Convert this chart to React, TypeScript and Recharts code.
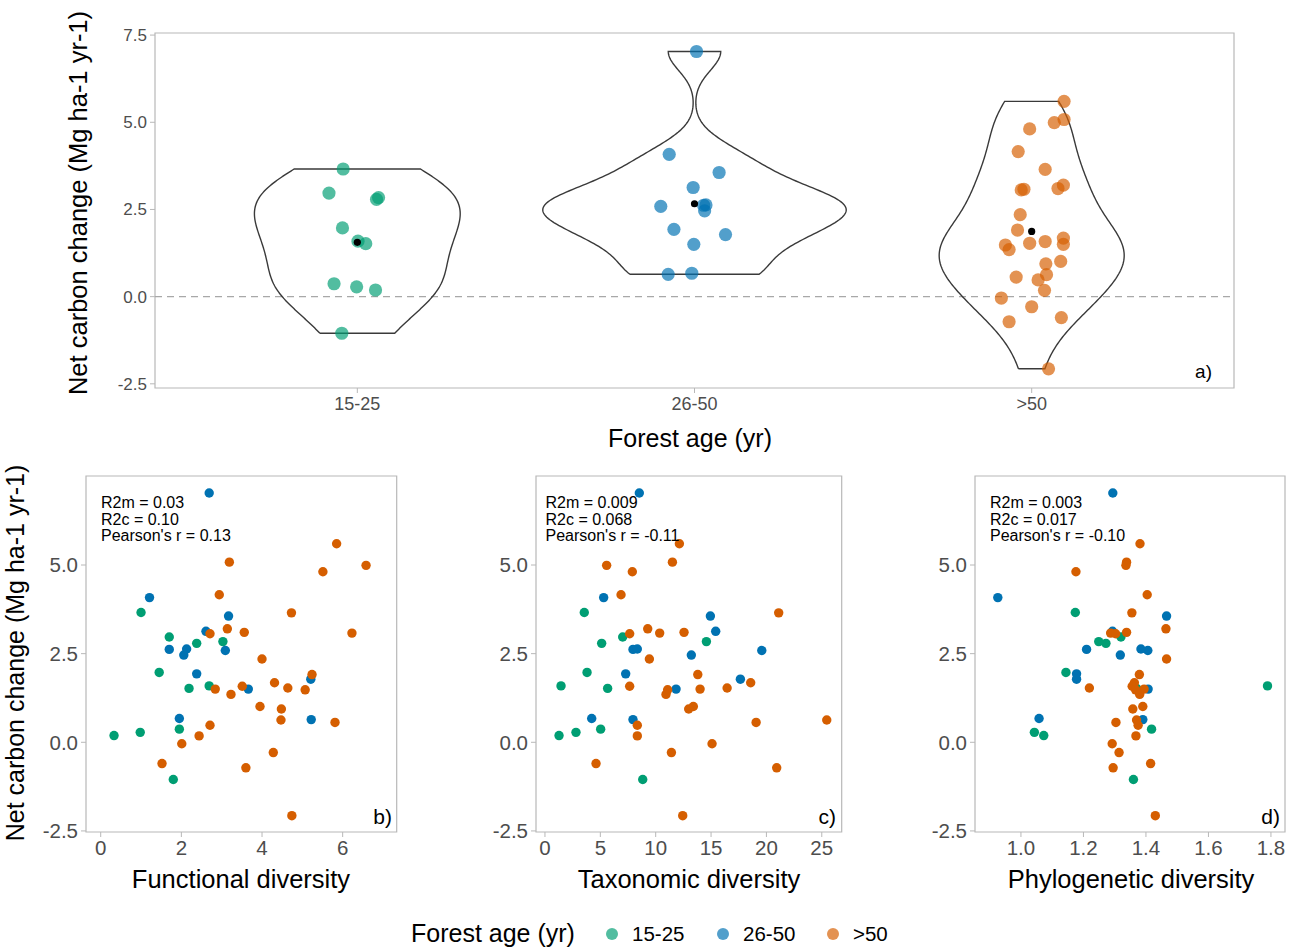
import React from 'react';
import { ComposedChart, ScatterChart, Scatter, XAxis, YAxis, ReferenceLine, ReferenceArea } from 'recharts';

// ---------------- data ----------------
const ageGroups = ['15-25', '26-50', '>50'];
const groupColors = ['#009E73', '#0072B2', '#D55E00'];

// 15-25 yr
const carbon1525 = [3.66, 2.97, 2.79, 2.84, 1.97, 1.52, 1.59, 0.37, 0.19, 0.28, -1.05];
const fd1525 = [1.0, 1.7, 2.38, 3.03, 1.45, 2.19, 2.69, 1.95, 0.33, 0.98, 1.8];
const td1525 = [3.55, 7.02, 5.12, 14.58, 3.8, 5.66, 1.45, 5.03, 1.27, 2.8, 8.83];
const pd1525 = [1.174, 1.32, 1.272, 1.249, 1.144, 1.37, 1.789, 1.418, 1.073, 1.043, 1.36];
const jitter1525 = [-0.042, -0.084, 0.057, 0.063, -0.044, 0.025, 0.002, -0.069, 0.054, -0.002, -0.046];

// 26-50 yr
const carbon2650 = [7.03, 4.08, 3.56, 3.13, 2.59, 2.62, 2.63, 2.46, 1.93, 1.78, 1.5, 0.67, 0.64];
const fd2650 = [2.69, 1.21, 3.17, 2.61, 3.09, 1.7, 2.13, 2.06, 2.38, 5.21, 3.66, 1.95, 5.22];
const td2650 = [8.52, 5.3, 14.94, 15.42, 19.58, 7.95, 8.34, 13.22, 7.29, 17.65, 11.84, 4.22, 7.95];
const pd2650 = [1.294, 0.926, 1.466, 1.293, 1.406, 1.21, 1.384, 1.318, 1.178, 1.178, 1.407, 1.058, 1.39];
const jitter2650 = [0.006, -0.075, 0.073, -0.004, -0.1, 0.027, 0.034, 0.03, -0.061, 0.092, -0.002, -0.008, -0.078];

// >50 yr
const carbon50 = [5.6, 5.08, 4.99, 4.81, 4.16, 3.65, 3.2, 3.1, 3.08, 3.06, 2.35, 1.91, 1.68, 1.58, 1.53, 1.5, 1.48, 1.35, 1.01, 0.94, 0.63, 0.56, 0.48, 0.18, -0.04, -0.29, -0.6, -0.72, -2.07];
const fd50 = [5.85, 3.19, 6.58, 5.51, 2.94, 4.73, 3.14, 3.56, 6.23, 2.71, 4.0, 5.24, 4.31, 3.51, 4.64, 2.84, 5.07, 3.23, 3.95, 4.48, 4.47, 5.81, 2.71, 2.44, 2.01, 4.28, 1.52, 3.6, 4.74];
const td50 = [12.14, 11.51, 5.57, 7.89, 6.87, 21.11, 9.28, 12.56, 10.36, 7.65, 9.43, 13.8, 18.58, 7.65, 16.45, 14.01, 11.08, 10.93, 13.4, 12.98, 25.45, 19.07, 8.34, 8.34, 15.09, 11.42, 4.61, 20.93, 12.44];
const pd50 = [1.381, 1.338, 1.336, 1.176, 1.404, 1.355, 1.464, 1.338, 1.287, 1.303, 1.466, 1.379, 1.363, 1.356, 1.219, 1.394, 1.367, 1.38, 1.39, 1.358, 1.37, 1.304, 1.375, 1.368, 1.292, 1.314, 1.415, 1.295, 1.43];
const jitter50 = [0.096, 0.096, 0.067, -0.006, -0.04, 0.04, 0.094, 0.078, -0.023, -0.031, -0.034, -0.042, 0.094, 0.04, -0.006, 0.094, -0.078, -0.067, 0.086, 0.042, 0.044, -0.046, 0.019, 0.038, -0.09, 0.0, 0.088, -0.067, 0.05];

const carbonByGroup = [carbon1525, carbon2650, carbon50];
const jitterByGroup = [jitter1525, jitter2650, jitter50];
const fdByGroup = [fd1525, fd2650, fd50];
const tdByGroup = [td1525, td2650, td50];
const pdByGroup = [pd1525, pd2650, pd50];

const statsFD = ['R2m = 0.03', 'R2c = 0.10', "Pearson's r = 0.13"];
const statsTD = ['R2m = 0.009', 'R2c = 0.068', "Pearson's r = -0.11"];
const statsPD = ['R2m = 0.003', 'R2c = 0.017', "Pearson's r = -0.10"];

const topYTicks = [-2.5, 0, 2.5, 5, 7.5];
const bottomYTicks = [-2.5, 0, 2.5, 5];
const fdTicks = [0, 2, 4, 6];
const tdTicks = [0, 5, 10, 15, 20, 25];
const pdTicks = [1.0, 1.2, 1.4, 1.6, 1.8];

// ---------------- violin (ggplot-like KDE, nrd0 bandwidth, scale = area) ----------------
function quantile(sorted: number[], p: number) {
  const h = (sorted.length - 1) * p;
  const lo = Math.floor(h);
  const hi = Math.min(lo + 1, sorted.length - 1);
  return sorted[lo] + (h - lo) * (sorted[hi] - sorted[lo]);
}
function bwNrd0(v: number[]) {
  const n = v.length;
  const m = v.reduce((a, b) => a + b, 0) / n;
  const sd = Math.sqrt(v.reduce((a, b) => a + (b - m) * (b - m), 0) / (n - 1));
  const s = [...v].sort((a, b) => a - b);
  const iqr = quantile(s, 0.75) - quantile(s, 0.25);
  let lo = Math.min(sd, iqr / 1.34);
  if (!lo) lo = sd || 1;
  return 0.9 * lo * Math.pow(n, -0.2);
}
function kde(v: number[], bw: number, y: number) {
  let s = 0;
  for (const x of v) {
    const z = (y - x) / bw;
    s += Math.exp(-0.5 * z * z);
  }
  return s / (v.length * bw * Math.sqrt(2 * Math.PI));
}
const STEPS = 160;
const densities = carbonByGroup.map((v) => {
  const bw = bwNrd0(v);
  const lo = Math.min(...v);
  const hi = Math.max(...v);
  const rows: { y: number; d: number }[] = [];
  for (let i = 0; i <= STEPS; i++) {
    const y = lo + ((hi - lo) * i) / STEPS;
    rows.push({ y, d: kde(v, bw, y) });
  }
  return rows;
});
const globalMax = Math.max(...densities.flat().map((r) => r.d));
const violinOutlines = densities.map((rows, g) => {
  const c = g + 1;
  const left = rows.map((r) => ({ x: c - (0.45 * r.d) / globalMax, y: r.y }));
  const right = [...rows].reverse().map((r) => ({ x: c + (0.45 * r.d) / globalMax, y: r.y }));
  return [...left, ...right, left[0]];
});
const topPoints = carbonByGroup.map((v, g) => v.map((y, i) => ({ x: g + 1 + jitterByGroup[g][i], y })));
const groupMeans = carbonByGroup.map((v, g) => ({ x: g + 1, y: v.reduce((a, b) => a + b, 0) / v.length }));

// ---------------- styling ----------------
const FONT = '"Liberation Sans", Arial, Helvetica, sans-serif';
const TICK_COLOR = '#4d4d4d';
const BORDER = '#b8b8b8';

const dotShape = (color: string, r: number, opacity: number) => (p: any) =>
  <circle cx={p.cx} cy={p.cy} r={r} fill={color} fillOpacity={opacity} stroke="none" />;
const noShape = () => <g />;

const fmt1 = (v: number) => v.toFixed(1);

// ---------------- top violin panel ----------------
const TOP_Y_DOMAIN: [number, number] = [-2.62, 7.56];

function TopPanel() {
  return (
    <div style={{ position: 'absolute', left: 0, top: 0 }}>
      <ComposedChart width={1293} height={470} margin={{ top: 33, right: 59, bottom: 42, left: 95 }}>
        <XAxis
          type="number"
          dataKey="x"
          domain={[0.4, 3.6]}
          allowDataOverflow
          ticks={[1, 2, 3]}
          tickFormatter={(v: number) => ageGroups[v - 1]}
          axisLine={false}
          tickLine={{ stroke: BORDER }}
          tickSize={5}
          tickMargin={4}
          height={40}
          tick={{ fill: TICK_COLOR, fontSize: 18, fontFamily: FONT }}
        />
        <YAxis
          type="number"
          dataKey="y"
          domain={TOP_Y_DOMAIN}
          allowDataOverflow
          ticks={topYTicks}
          tickFormatter={fmt1}
          axisLine={false}
          tickLine={{ stroke: BORDER }}
          tickSize={5}
          tickMargin={3}
          width={60}
          tick={{ fill: TICK_COLOR, fontSize: 17, fontFamily: FONT }}
        />
        <ReferenceArea x1={0.4} x2={3.6} y1={TOP_Y_DOMAIN[0]} y2={TOP_Y_DOMAIN[1]} fill="none" fillOpacity={0} stroke={BORDER} strokeWidth={1.2} />
        <ReferenceLine y={0} stroke="#a8a8a8" strokeWidth={1.4} strokeDasharray="7 5" />
        {violinOutlines.map((d, g) => (
          <Scatter
            key={'v' + g}
            data={d}
            line={{ stroke: '#3a3a3a', strokeWidth: 1.4 }}
            lineType="joint"
            shape={noShape}
            isAnimationActive={false}
          />
        ))}
        {topPoints.map((d, g) => (
          <Scatter key={'p' + g} data={d} shape={dotShape(groupColors[g], 6.6, 0.68)} isAnimationActive={false} />
        ))}
        <Scatter data={groupMeans} shape={dotShape('#000000', 3.6, 1)} isAnimationActive={false} />
      </ComposedChart>
    </div>
  );
}

// ---------------- bottom scatter panels ----------------
const BOTTOM_Y_DOMAIN: [number, number] = [-2.53, 7.51];

type PanelCfg = {
  left: number;
  width: number;
  mLeft: number;
  mRight: number;
  domain: [number, number];
  ticks: number[];
  fmt: (v: number) => string;
  xs: number[][];
};

const panelCfgs: PanelCfg[] = [
  { left: 0, width: 410, mLeft: 26, mRight: 13.3, domain: [-0.365, 7.34], ticks: fdTicks, fmt: (v) => String(v), xs: fdByGroup },
  { left: 440, width: 412, mLeft: 36, mRight: 10.3, domain: [-0.81, 26.8], ticks: tdTicks, fmt: (v) => String(v), xs: tdByGroup },
  { left: 880, width: 413, mLeft: 35, mRight: 8, domain: [0.853, 1.845], ticks: pdTicks, fmt: fmt1, xs: pdByGroup },
];

function BottomPanel({ cfg }: { cfg: PanelCfg }) {
  return (
    <div style={{ position: 'absolute', left: cfg.left, top: 456 }}>
      <ScatterChart width={cfg.width} height={420} margin={{ top: 20, right: cfg.mRight, bottom: 0, left: cfg.mLeft }}>
        <XAxis
          type="number"
          dataKey="x"
          domain={cfg.domain}
          allowDataOverflow
          ticks={cfg.ticks}
          tickFormatter={cfg.fmt}
          axisLine={false}
          tickLine={{ stroke: BORDER }}
          tickSize={5}
          tickMargin={3}
          height={44}
          tick={{ fill: TICK_COLOR, fontSize: 20.5, fontFamily: FONT }}
        />
        <YAxis
          type="number"
          dataKey="y"
          domain={BOTTOM_Y_DOMAIN}
          allowDataOverflow
          ticks={bottomYTicks}
          tickFormatter={fmt1}
          axisLine={false}
          tickLine={{ stroke: BORDER }}
          tickSize={5}
          tickMargin={3}
          width={60}
          tick={{ fill: TICK_COLOR, fontSize: 20.5, fontFamily: FONT }}
        />
        <ReferenceArea x1={cfg.domain[0]} x2={cfg.domain[1]} y1={BOTTOM_Y_DOMAIN[0]} y2={BOTTOM_Y_DOMAIN[1]} fill="none" fillOpacity={0} stroke={BORDER} strokeWidth={1.2} />
        {carbonByGroup.map((ys, g) => (
          <Scatter
            key={g}
            data={ys.map((y, i) => ({ x: cfg.xs[g][i], y }))}
            shape={dotShape(groupColors[g], 4.7, 1)}
            isAnimationActive={false}
          />
        ))}
      </ScatterChart>
    </div>
  );
}

// ---------------- overlay text ----------------
const yTitle = 'Net carbon change (Mg ha-1 yr-1)';
const statsByPanel = [statsFD, statsTD, statsPD];
const statsX = [101, 545.5, 990];
const letters = ['b)', 'c)', 'd)'];
const letterX = [392, 836, 1280];
const xTitles = ['Functional diversity', 'Taxonomic diversity', 'Phylogenetic diversity'];
const xTitleCenters = [241, 689, 1131];
const legendDotX = [612, 723, 833];

function Overlay() {
  return (
    <svg width={1293} height={950} style={{ position: 'absolute', left: 0, top: 0, pointerEvents: 'none' }} fontFamily={FONT}>
      <text transform="translate(87,203) rotate(-90)" textAnchor="middle" fontSize={25.5} fill="#000">{yTitle}</text>
      <text transform="translate(24,653) rotate(-90)" textAnchor="middle" fontSize={25} fill="#000">{yTitle}</text>
      <text x={690} y={447} textAnchor="middle" fontSize={25} fill="#000">Forest age (yr)</text>
      <text x={1212} y={378} textAnchor="end" fontSize={19} fill="#000">a)</text>
      {statsByPanel.map((lines, p) => (
        <g key={p}>
          {lines.map((t, i) => (
            <text key={i} x={statsX[p]} y={508 + i * 16.5} fontSize={16} fill="#000">{t}</text>
          ))}
          <text x={letterX[p]} y={824} textAnchor="end" fontSize={21} fill="#000">{letters[p]}</text>
          <text x={xTitleCenters[p]} y={888} textAnchor="middle" fontSize={25.5} fill="#000">{xTitles[p]}</text>
        </g>
      ))}
      <text x={411} y={942} fontSize={25} fill="#000">Forest age (yr)</text>
      {ageGroups.map((g, i) => (
        <g key={g}>
          <circle cx={legendDotX[i]} cy={934} r={6} fill={groupColors[i]} fillOpacity={0.68} />
          <text x={legendDotX[i] + 20} y={941} fontSize={20.5} fill="#000">{g}</text>
        </g>
      ))}
    </svg>
  );
}

export default function App() {
  return (
    <div style={{ position: 'absolute', left: 0, top: 0, width: 1293, height: 950, background: '#fff', overflow: 'hidden' }}>
      <TopPanel />
      {panelCfgs.map((c, i) => (
        <BottomPanel key={i} cfg={c} />
      ))}
      <Overlay />
    </div>
  );
}
